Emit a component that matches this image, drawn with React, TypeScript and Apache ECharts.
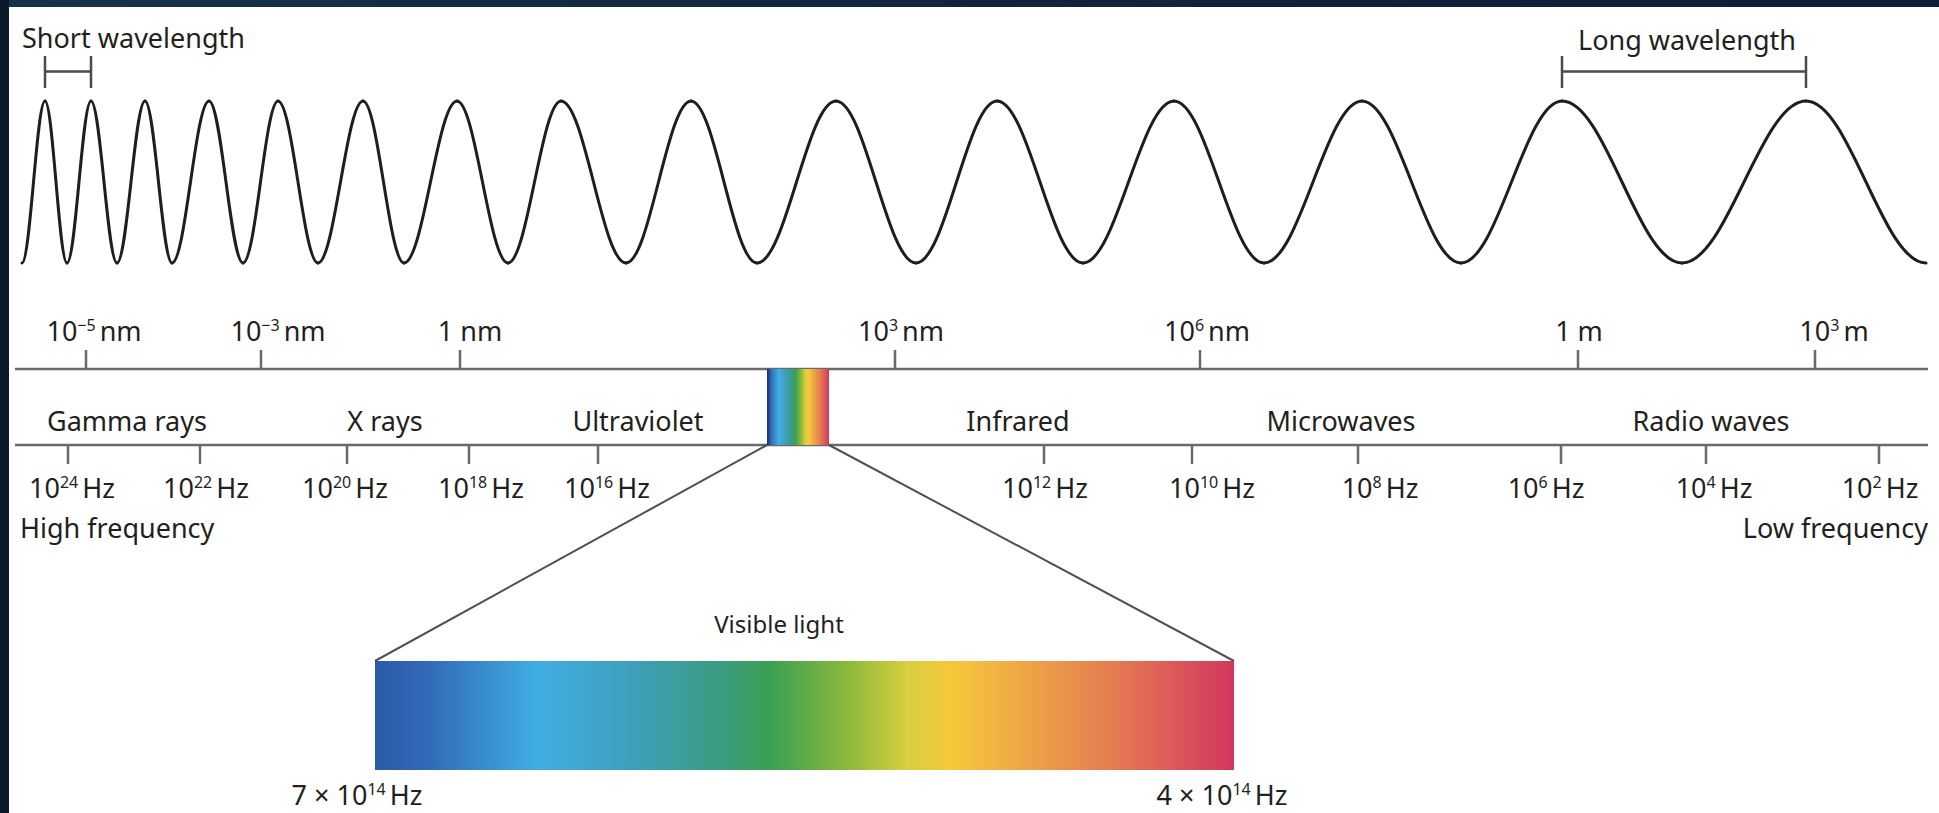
import React, { useEffect, useRef } from 'react';
import * as echarts from 'echarts';

const CANVAS_W = 1939;
const CANVAS_H = 813;

// ---------------- data ----------------
// x positions of the wave's crests and troughs (a chirp: the wavelength grows to the right)
const waveCrestX = [45, 91, 145, 209, 278, 363, 457, 561, 691, 836, 997, 1174, 1362, 1562, 1806];
const waveTroughX = [22, 67, 117, 172, 243, 318, 404, 508, 626, 757, 916, 1083, 1264, 1461, 1682, 1926];

// wavelength scale (upper line)
const wavelengthTickX = [86, 261, 460, 895, 1200, 1578, 1815];
const wavelengthLabelX = [94, 278, 470, 901, 1207, 1579, 1834];
const wavelengthMantissa = ['10', '10', '1', '10', '10', '1', '10'];
const wavelengthExponent = ['−5', '−3', '', '3', '6', '', '3'];
const wavelengthUnit = ['nm', 'nm', 'nm', 'nm', 'nm', 'm', 'm'];

// frequency scale (lower line)
const frequencyTickX = [68, 200, 347, 469, 598, 1044, 1192, 1358, 1561, 1706, 1879];
const frequencyLabelX = [72, 206, 345, 481, 607, 1045, 1212, 1380, 1546, 1714, 1880];
const frequencyExponent = ['24', '22', '20', '18', '16', '12', '10', '8', '6', '4', '2'];

// bands
const bandNames = ['Gamma rays', 'X rays', 'Ultraviolet', 'Infrared', 'Microwaves', 'Radio waves'];
const bandCenterX = [127, 385, 638, 1018, 1341, 1711];

// visible light edges
const visibleEdgeMantissa = ['7 × 10', '4 × 10'];
const visibleEdgeExponent = ['14', '14'];
const visibleEdgeLabelX = [357, 1222];

// visible spectrum colours (left = violet/blue, right = red)
const spectrumOffsets = [0, 0.06, 0.19, 0.3, 0.4, 0.46, 0.55, 0.62, 0.67, 0.75, 0.86, 0.95, 1];
const spectrumColors = ['#2c59a8', '#3169b6', '#40aee3', '#3e9fbb', '#3b9c82', '#3aa053', '#8cb93c', '#d7cf3f', '#f6c83b', '#efa845', '#e47b51', '#da4f5a', '#d2365d'];

// ---------------- layout (not data) ----------------
const WAVE_CREST_Y = 101;
const WAVE_TROUGH_Y = 263;
const WAVE_HANDLE = 0.364;
const LAMBDA_AXIS_Y = 369;
const FREQ_AXIS_Y = 445;
const AXIS_X0 = 15;
const AXIS_X1 = 1928;
const TICK_LEN = 19;
const SMALL_BAR_X = [767, 829];
const BIG_BAR = [375, 661, 1234, 770];
const BRACKET_TOP = 56;
const BRACKET_BOTTOM = 88;
const BRACKET_MID = 71.5;

const TEXT = '#231f20';
const AXIS_COLOR = '#6a6a6a';
const FONT = '"Noto Sans", "Open Sans", sans-serif';
const FS = 27;
const SUP_FS = 16;
const BASE_TO_MID = 10;

const makeRich = (fs: number): any => ({
  n: { fontSize: fs, fontFamily: FONT, fill: TEXT, lineHeight: 26 },
  s: { fontSize: SUP_FS, fontFamily: FONT, fill: TEXT, lineHeight: 11, verticalAlign: 'top' },
  u: { fontSize: fs, fontFamily: FONT, fill: TEXT, lineHeight: 26, padding: [0, 0, 0, 4] },
});

const power = (m: string, e: string, u: string) =>
  e ? `{n|${m}}{s|${e}}{u|${u}}` : `{n|${m} ${u}}`;

function textSeries(id: string, xs: number[], baselines: number[], texts: string[], align: string, fs = FS) {
  const rich = makeRich(fs);
  return {
    type: 'custom',
    id,
    coordinateSystem: 'cartesian2d',
    clip: false,
    silent: true,
    z: 10,
    data: xs.map((x, i) => [x, baselines[i] - BASE_TO_MID * (fs / FS)]),
    renderItem: (params: any, api: any) => {
      const p = api.coord([api.value(0), api.value(1)]);
      return {
        type: 'text',
        x: p[0],
        y: p[1],
        style: {
          text: texts[params.dataIndex],
          align,
          verticalAlign: 'middle',
          fill: TEXT,
          fontSize: fs,
          fontFamily: FONT,
          rich,
        },
      };
    },
  };
}

function segmentSeries(id: string, segs: number[][], color: string, width: number, z = 2) {
  return {
    type: 'custom',
    id,
    coordinateSystem: 'cartesian2d',
    clip: false,
    silent: true,
    z,
    dimensions: ['x1', 'y1', 'x2', 'y2'],
    encode: { x: [0, 2], y: [1, 3] },
    data: segs,
    renderItem: (params: any, api: any) => {
      const a = api.coord([api.value(0), api.value(1)]);
      const b = api.coord([api.value(2), api.value(3)]);
      return {
        type: 'line',
        shape: { x1: a[0], y1: a[1], x2: b[0], y2: b[1] },
        style: { stroke: color, lineWidth: width, lineCap: 'butt' },
      };
    },
  };
}

function spectrumGradient(withEdge: boolean) {
  const stops = spectrumOffsets.map((o, i) => ({ offset: o, color: spectrumColors[i] }));
  if (withEdge) {
    stops[0] = { offset: 0, color: '#1b2d66' };
    stops.splice(1, 0, { offset: 0.05, color: '#2a56a6' });
  }
  return new echarts.graphic.LinearGradient(0, 0, 1, 0, stops);
}

export default function App() {
  const ref = useRef<HTMLDivElement>(null);

  useEffect(() => {
    if (!ref.current) return;
    const chart = echarts.init(ref.current, undefined, { renderer: 'svg' });

    const wavePoints = [
      ...waveCrestX.map((x) => [x, WAVE_CREST_Y]),
      ...waveTroughX.map((x) => [x, WAVE_TROUGH_Y]),
    ].sort((a, b) => a[0] - b[0]);
    // each half-wave goes from one extremum to the next
    const waveSegments = wavePoints.slice(1).map((p, i) => [wavePoints[i][0], wavePoints[i][1], p[0], p[1]]);

    const axisLines = [
      [AXIS_X0, LAMBDA_AXIS_Y, AXIS_X1, LAMBDA_AXIS_Y],
      [AXIS_X0, FREQ_AXIS_Y, AXIS_X1, FREQ_AXIS_Y],
    ];
    const ticks = [
      ...wavelengthTickX.map((x) => [x, LAMBDA_AXIS_Y, x, LAMBDA_AXIS_Y - TICK_LEN]),
      ...frequencyTickX.map((x) => [x, FREQ_AXIS_Y, x, FREQ_AXIS_Y + TICK_LEN]),
    ];
    const nC = waveCrestX.length;
    const brackets: number[][] = [];
    [[waveCrestX[0], waveCrestX[1]], [waveCrestX[nC - 2], waveCrestX[nC - 1]]].forEach(([a, b]) => {
      brackets.push([a, BRACKET_TOP, a, BRACKET_BOTTOM]);
      brackets.push([b, BRACKET_TOP, b, BRACKET_BOTTOM]);
      brackets.push([a, BRACKET_MID, b, BRACKET_MID]);
    });
    const connectors = [
      [SMALL_BAR_X[0], FREQ_AXIS_Y, BIG_BAR[0], BIG_BAR[1]],
      [SMALL_BAR_X[1], FREQ_AXIS_Y, BIG_BAR[2], BIG_BAR[1]],
    ];
    const bars = [
      [SMALL_BAR_X[0], LAMBDA_AXIS_Y, SMALL_BAR_X[1], FREQ_AXIS_Y],
      [BIG_BAR[0], BIG_BAR[1], BIG_BAR[2], BIG_BAR[3]],
    ];

    const option: any = {
      animation: false,
      backgroundColor: '#ffffff',
      grid: { left: 0, right: 0, top: 0, bottom: 0, containLabel: false },
      xAxis: { type: 'value', min: 0, max: CANVAS_W, show: false },
      yAxis: { type: 'value', min: 0, max: CANVAS_H, inverse: true, show: false },
      graphic: [
        {
          type: 'rect',
          left: 0,
          top: 0,
          shape: { width: CANVAS_W, height: 7 },
          style: {
            fill: new echarts.graphic.LinearGradient(0, 0, 1, 0, [
              { offset: 0, color: '#17324d' },
              { offset: 0.5, color: '#10253b' },
              { offset: 1, color: '#0d1f33' },
            ]),
          },
          z: 100,
        },
        {
          type: 'rect',
          left: 0,
          top: 0,
          shape: { width: 9, height: CANVAS_H },
          style: { fill: '#0a1a2b' },
          z: 100,
        },
      ],
      series: [
        {
          type: 'custom',
          id: 'wave',
          coordinateSystem: 'cartesian2d',
          clip: false,
          silent: true,
          z: 3,
          dimensions: ['x1', 'y1', 'x2', 'y2'],
          encode: { x: [0, 2], y: [1, 3] },
          data: waveSegments,
          renderItem: (params: any, api: any) => {
            const a = api.coord([api.value(0), api.value(1)]);
            const b = api.coord([api.value(2), api.value(3)]);
            const h = (b[0] - a[0]) * WAVE_HANDLE;
            return {
              type: 'bezierCurve',
              shape: {
                x1: a[0], y1: a[1],
                cpx1: a[0] + h, cpy1: a[1],
                cpx2: b[0] - h, cpy2: b[1],
                x2: b[0], y2: b[1],
              },
              style: { stroke: '#1e1e1e', lineWidth: 3, fill: 'none', lineCap: 'round' },
            };
          },
        },
        segmentSeries('axes', axisLines, AXIS_COLOR, 2.5),
        segmentSeries('ticks', ticks, AXIS_COLOR, 2.5),
        segmentSeries('brackets', brackets, '#4a4a4a', 2.5),
        segmentSeries('connectors', connectors, '#505050', 2),
        {
          type: 'custom',
          id: 'spectrum',
          coordinateSystem: 'cartesian2d',
          clip: false,
          silent: true,
          z: 5,
          dimensions: ['x0', 'y0', 'x1', 'y1'],
          encode: { x: [0, 2], y: [1, 3] },
          data: bars,
          renderItem: (params: any, api: any) => {
            const a = api.coord([api.value(0), api.value(1)]);
            const b = api.coord([api.value(2), api.value(3)]);
            return {
              type: 'rect',
              shape: { x: a[0], y: a[1], width: b[0] - a[0], height: b[1] - a[1] },
              style: { fill: spectrumGradient(params.dataIndex === 0) },
            };
          },
        },
        textSeries('shortLabel', [22], [47], ['{n|Short wavelength}'], 'left'),
        textSeries('longLabel', [1687], [49], ['{n|Long wavelength}'], 'center'),
        textSeries(
          'wavelengthLabels',
          wavelengthLabelX,
          wavelengthLabelX.map(() => 340),
          wavelengthLabelX.map((_, i) => power(wavelengthMantissa[i], wavelengthExponent[i], wavelengthUnit[i])),
          'center'
        ),
        textSeries('bandLabels', bandCenterX, bandCenterX.map(() => 430), bandNames.map((b) => `{n|${b}}`), 'center'),
        textSeries(
          'frequencyLabels',
          frequencyLabelX,
          frequencyLabelX.map(() => 497),
          frequencyExponent.map((e) => power('10', e, 'Hz')),
          'center'
        ),
        textSeries('highFreq', [20], [537], ['{n|High frequency}'], 'left'),
        textSeries('lowFreq', [1928], [537], ['{n|Low frequency}'], 'right'),
        textSeries('visibleTitle', [779], [632], ['{n|Visible light}'], 'center', 24),
        textSeries(
          'visibleEdges',
          visibleEdgeLabelX,
          visibleEdgeLabelX.map(() => 804),
          visibleEdgeMantissa.map((m, i) => power(m, visibleEdgeExponent[i], 'Hz')),
          'center'
        ),
      ],
    };

    chart.setOption(option);
    return () => chart.dispose();
  }, []);

  return (
    <div
      ref={ref}
      style={{ position: 'fixed', left: 0, top: 0, width: CANVAS_W, height: CANVAS_H, background: '#fff' }}
    />
  );
}
